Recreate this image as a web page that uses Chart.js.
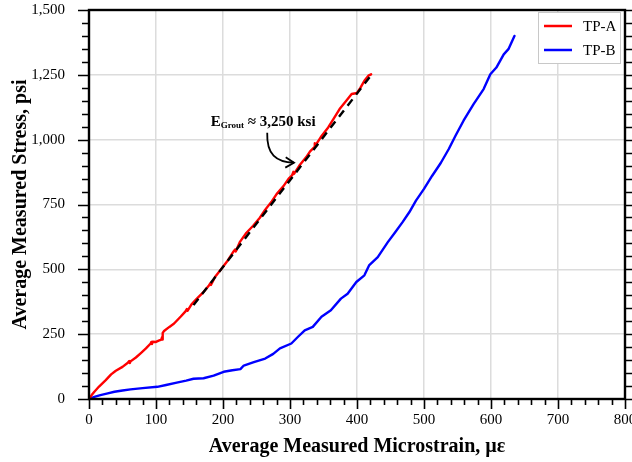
<!DOCTYPE html>
<html>
<head>
<meta charset="utf-8">
<script src="https://cdn.jsdelivr.net/npm/chart.js@4.4.1/dist/chart.umd.min.js"></script>
<style>
  html, body { margin: 0; padding: 0; background: #fff; }
  #wrap { width: 632px; height: 462px; position: relative; }
</style>
</head>
<body>
<div id="wrap"><canvas id="chart"></canvas></div>
<script>
// TP-A (red) - microstrain / stress pairs, small jogs are load-hold wiggles
var tpaStrain = [0, 4, 8, 15, 25, 33, 40, 50, 58, 60, 61, 62, 70, 77, 85, 92, 93, 94, 95, 100, 104, 108, 109, 110, 110, 112, 120, 127, 137, 144, 146, 147, 153, 161, 170, 179, 181, 182, 188, 196, 206, 216, 218, 219, 225, 235, 245, 255, 263, 273, 280, 290, 298, 303, 305, 306, 314, 324, 330, 336, 337, 338, 346, 357, 365, 374, 384, 392, 400, 405, 411, 417, 421];
var tpaStress = [0, 15, 28, 48, 73, 95, 109, 124, 140, 146, 139, 145, 160, 176, 195, 214, 220, 212, 221, 220, 225, 229, 238, 229, 255, 262, 278, 291, 318, 338, 347, 340, 365, 387, 410, 438, 446, 440, 470, 496, 530, 570, 576, 569, 605, 641, 668, 699, 730, 763, 790, 820, 850, 862, 876, 868, 900, 932, 955, 970, 986, 978, 1010, 1047, 1080, 1118, 1150, 1176, 1180, 1200, 1227, 1247, 1252];

// TP-B (blue)
var tpbStrain = [0, 8, 17, 28, 38, 50, 62, 80, 102, 115, 131, 145, 156, 171, 186, 201, 214, 226, 231, 246, 263, 275, 285, 302, 312, 322, 334, 347, 361, 376, 386, 399, 411, 418, 431, 446, 457, 468, 478, 488, 500, 512, 525, 537, 547, 559, 574, 589, 599, 608, 619, 626, 635];
var tpbStress = [0, 8, 15, 22, 28, 33, 37, 42, 47, 54, 63, 71, 78, 80, 90, 105, 111, 115, 129, 142, 156, 174, 195, 214, 240, 265, 278, 317, 342, 387, 406, 451, 477, 515, 547, 605, 643, 682, 720, 765, 810, 860, 910, 964, 1015, 1073, 1137, 1195, 1252, 1278, 1329, 1349, 1400];

// fitted grout modulus line (E ~ 3,250 ksi)
var fitStrain = [156, 423];
var fitStress = [362, 1255];

var xTicks = [0, 100, 200, 300, 400, 500, 600, 700, 800];
var yTicks = [0, 250, 500, 750, 1000, 1250, 1500];

// annotation text anchor and arrow path, in data units
var noteAt = [181.6, 1052];
var arrowPath = [[266, 1027], [265, 943], [279, 914], [306, 911]];

function pairs(xs, ys) {
  return xs.map(function (x, i) { return { x: x, y: ys[i] }; });
}

var serif = "'Liberation Serif', 'Times New Roman', serif";

// frame + outward ticks, major every label, minor 5 per major
var frameTicks = {
  id: 'frameTicks',
  afterDraw: function (chart) {
    var ctx = chart.ctx, a = chart.chartArea;
    var xs = chart.scales.x, ys = chart.scales.y;
    ctx.save();
    ctx.strokeStyle = '#000';
    ctx.lineWidth = 1.6;
    for (var v = 0; v <= 800; v += 20) {
      var px = Math.round(xs.getPixelForValue(v)) + 0.5;
      var len = (v % 100 === 0) ? 10 : 6;
      ctx.beginPath();
      ctx.moveTo(px, a.bottom);
      ctx.lineTo(px, a.bottom + len);
      ctx.stroke();
    }
    for (var w = 0; w <= 1500; w += 50) {
      var py = Math.round(ys.getPixelForValue(w)) + 0.5;
      var l2 = (w % 250 === 0) ? 11 : 7;
      ctx.beginPath();
      ctx.moveTo(a.left - l2, py);
      ctx.lineTo(a.left, py);
      ctx.moveTo(a.right, py);
      ctx.lineTo(a.right + l2, py);
      ctx.stroke();
    }
    ctx.lineWidth = 2.4;
    ctx.strokeRect(a.left, a.top, a.right - a.left, a.bottom - a.top);
    ctx.restore();
  }
};

// E_Grout label with curved arrow
var groutNote = {
  id: 'groutNote',
  afterDatasetsDraw: function (chart) {
    var ctx = chart.ctx;
    var xs = chart.scales.x, ys = chart.scales.y;
    var x = xs.getPixelForValue(noteAt[0]);
    var y = ys.getPixelForValue(noteAt[1]);
    ctx.save();
    ctx.fillStyle = '#000';
    ctx.textBaseline = 'alphabetic';
    ctx.font = 'bold 15px ' + serif;
    ctx.fillText('E', x, y);
    x += ctx.measureText('E').width;
    ctx.font = 'bold 9px ' + serif;
    ctx.fillText('Grout', x, y + 2);
    x += ctx.measureText('Grout').width;
    ctx.font = 'bold 15px ' + serif;
    ctx.fillText(' \u2248 3,250 ksi', x, y);

    var p = arrowPath.map(function (q) {
      return [xs.getPixelForValue(q[0]), ys.getPixelForValue(q[1])];
    });
    ctx.strokeStyle = '#000';
    ctx.lineWidth = 1.8;
    ctx.beginPath();
    ctx.moveTo(p[0][0], p[0][1]);
    ctx.bezierCurveTo(p[1][0], p[1][1], p[2][0], p[2][1], p[3][0], p[3][1]);
    ctx.stroke();
    var ang = Math.atan2(p[3][1] - p[2][1], p[3][0] - p[2][0]);
    ctx.beginPath();
    ctx.moveTo(p[3][0] - 10 * Math.cos(ang - 0.55), p[3][1] - 10 * Math.sin(ang - 0.55));
    ctx.lineTo(p[3][0], p[3][1]);
    ctx.lineTo(p[3][0] - 10 * Math.cos(ang + 0.55), p[3][1] - 10 * Math.sin(ang + 0.55));
    ctx.stroke();
    ctx.restore();
  }
};

// boxed legend in the top right corner of the plot
var boxLegend = {
  id: 'boxLegend',
  afterDraw: function (chart) {
    var ctx = chart.ctx, a = chart.chartArea;
    var items = chart.data.datasets.filter(function (d) { return d.label; });
    var w = 82, h = 51;
    var left = a.right - 5 - w, top = a.top + 2;
    ctx.save();
    ctx.fillStyle = '#fff';
    ctx.fillRect(left, top, w, h);
    ctx.strokeStyle = '#c8c8c8';
    ctx.lineWidth = 1;
    ctx.strokeRect(left + 0.5, top + 0.5, w, h);
    ctx.font = '15px ' + serif;
    ctx.textBaseline = 'middle';
    items.forEach(function (d, i) {
      var cy = top + 14 + i * 24;
      ctx.strokeStyle = d.borderColor;
      ctx.lineWidth = 2.5;
      ctx.beginPath();
      ctx.moveTo(left + 6, cy);
      ctx.lineTo(left + 34, cy);
      ctx.stroke();
      ctx.fillStyle = '#000';
      ctx.fillText(d.label, left + 45, cy + 1);
    });
    ctx.restore();
  }
};

var chart = new Chart(document.getElementById('chart').getContext('2d'), {
  type: 'line',
  data: {
    datasets: [
      {
        label: 'TP-A',
        data: pairs(tpaStrain, tpaStress),
        borderColor: '#ff0000',
        borderWidth: 2.4,
        borderJoinStyle: 'round',
        borderCapStyle: 'round',
        pointRadius: 0,
        tension: 0,
        order: 2
      },
      {
        label: 'TP-B',
        data: pairs(tpbStrain, tpbStress),
        borderColor: '#0000ff',
        borderWidth: 2.4,
        borderJoinStyle: 'round',
        borderCapStyle: 'round',
        pointRadius: 0,
        tension: 0,
        order: 3
      },
      {
        label: '',
        data: pairs(fitStrain, fitStress),
        borderColor: '#000',
        borderWidth: 2.4,
        borderDash: [8, 6],
        pointRadius: 0,
        order: 1
      }
    ]
  },
  options: {
    responsive: true,
    maintainAspectRatio: false,
    animation: false,
    layout: { autoPadding: false, padding: { top: 10, right: 7, left: 0, bottom: 0 } },
    plugins: { legend: { display: false }, tooltip: { enabled: false } },
    scales: {
      x: {
        type: 'linear',
        min: 0,
        max: 800,
        afterBuildTicks: function (s) { s.ticks = xTicks.map(function (v) { return { value: v }; }); },
        afterFit: function (s) { s.height = 63; s.paddingLeft = 0; s.paddingRight = 0; },
        ticks: { color: '#000', font: { family: serif, size: 15 }, padding: 12, maxRotation: 0 },
        grid: { color: '#dcdcdc', lineWidth: 1.5, drawTicks: false },
        border: { display: false },
        title: {
          display: true,
          text: 'Average Measured Microstrain, \u00b5\u03b5',
          color: '#000',
          font: { family: serif, size: 20, weight: 'bold' },
          padding: { top: 0, bottom: 3 }
        }
      },
      y: {
        type: 'linear',
        min: 0,
        max: 1500,
        afterBuildTicks: function (s) { s.ticks = yTicks.map(function (v) { return { value: v }; }); },
        afterFit: function (s) { s.width = 89; s.paddingTop = 0; s.paddingBottom = 0; },
        ticks: {
          color: '#000',
          font: { family: serif, size: 15 },
          padding: 24,
          callback: function (v) { return v.toLocaleString('en-US'); }
        },
        grid: { color: '#dcdcdc', lineWidth: 1.5, drawTicks: false },
        border: { display: false },
        title: {
          display: true,
          text: 'Average Measured Stress, psi',
          color: '#000',
          font: { family: serif, size: 20, weight: 'bold' },
          padding: { top: 9, bottom: 0 }
        }
      }
    }
  },
  plugins: [groutNote, frameTicks, boxLegend]
});
</script>
</body>
</html>
